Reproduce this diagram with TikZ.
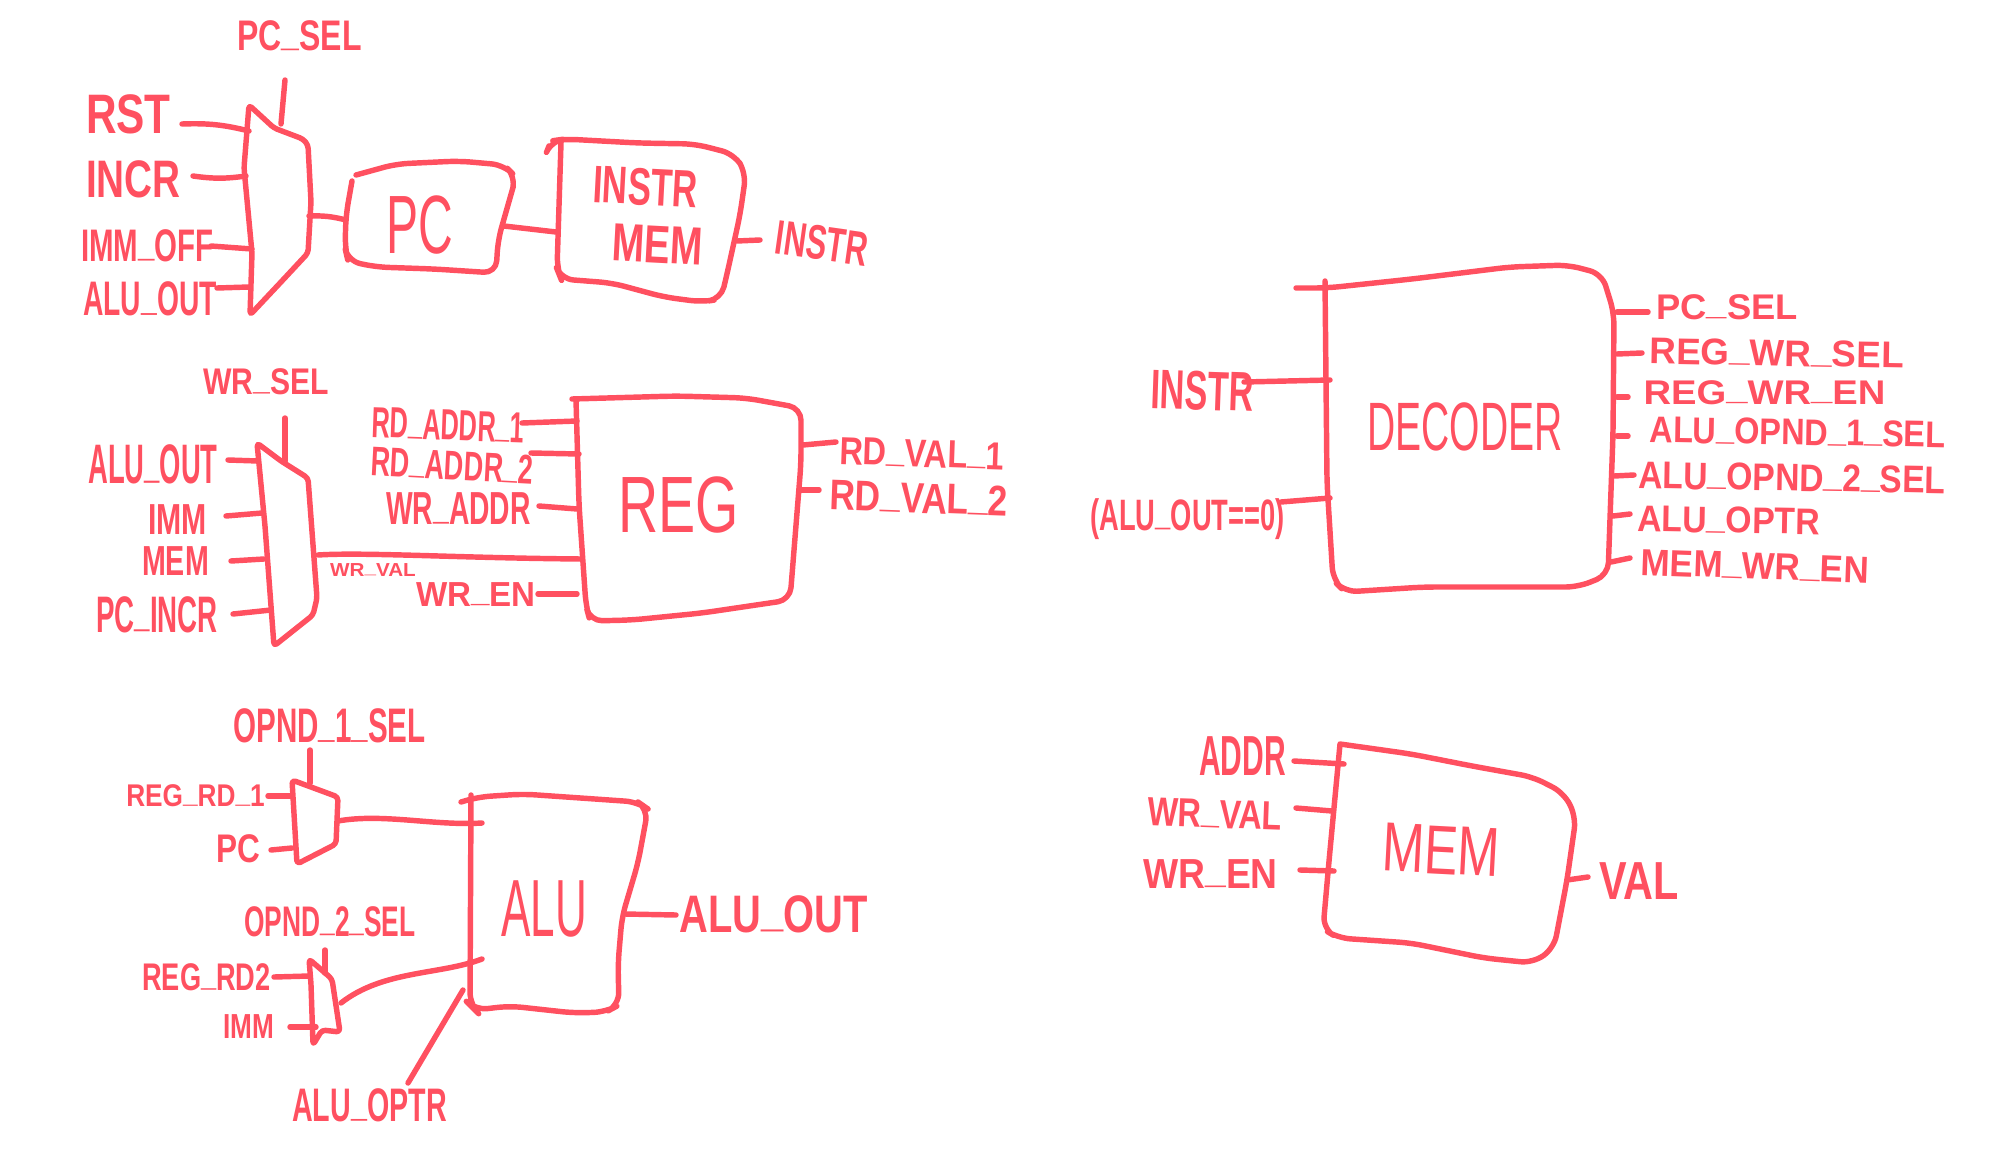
\documentclass[tikz,border=0pt]{standalone}
\usepackage{graphicx}
\usepackage{fontspec}
\setmainfont{Liberation Sans}
\definecolor{ink}{HTML}{FF5060}
\newcommand{\us}{\raisebox{.12em}{\_}}
\tikzset{
  hand/.style={draw=ink,line width=3.1pt,line cap=round,line join=round,rounded corners=7pt},
  muxline/.style={draw=ink,line width=3.1pt,line cap=round,line join=round,rounded corners=2pt},
  wire/.style={draw=ink,line width=3.1pt,line cap=round},
  lbl/.style={text=ink,inner sep=0pt,outer sep=0pt,anchor=base,font=\bfseries}
}
% \lab[node options]{name}{x1}{x2}{y top}{y baseline}{text}
\newcommand{\lab}[7][]{%
  \pgfmathsetlengthmacro\labw{(#4-#3)*0.5669pt}%
  \pgfmathsetlengthmacro\labh{(#6-#5)*0.5669pt}%
  \node[lbl,#1] (#2) at ({(#3+#4)/2},#6) {\resizebox{\labw}{\labh}{#7}};}
% \conn[to options]{name}{start}{end}
\newcommand{\conn}[4][]{%
  \coordinate (#2-a) at (#3);\coordinate (#2-b) at (#4);
  \draw[wire] (#2-a) to[#1] (#2-b);}
\begin{document}
\begin{tikzpicture}[x=0.02cm,y=-0.02cm]
\path[use as bounding box] (0,0) rectangle (1993,1152);
% ---------- PC group
\lab{lpcsel}{237}{362}{21}{51}{PC\us SEL}
\lab{lrst}{86}{171}{95}{134}{RST}
\lab{lincr}{86}{181}{160}{197}{INCR}
\lab{limmoff}{81}{214}{229}{261}{IMM\us OFF}
\lab{laluout}{83}{217}{281}{315}{ALU\us OUT}
\lab[rotate=-3]{linstr}{592}{697}{168}{205}{INSTR}
\lab[rotate=-3]{lmem}{611}{702}{226}{263}{MEM}
\lab{lpc}{386}{453}{196}{254}{\mdseries PC}
\lab[rotate=-8]{linstrout}{773}{866}{226}{260}{INSTR}
\draw[muxline] (249,105) -- (274,128) -- (303,139) -- (308,145) -- (311,202) -- (308,253) -- (281,282) -- (250,315) -- (252,253) -- (244,168) -- cycle;
\draw[hand] (356,175) -- (396,164) -- (459,161) -- (504,165) -- (516,177) -- (510,198) -- (498,240) -- (496,273) -- (434,269) -- (376,267) -- (348,261) -- (345,248) -- (346,215) -- (352,181);
\draw[hand] (549,146) -- (551,141) -- (565,139) -- (638,143) -- (695,144) -- (734,154) -- (746,173) -- (740,215) -- (727,274) -- (721,299) -- (702,302) -- (664,297) -- (612,283) -- (561,279) -- (557,269) -- (561,143);
\conn{c1}{285,80}{281,124}
\conn[bend left=8]{c2}{182,124}{249,131}
\conn[bend right=8]{c3}{193,176}{246,176}
\conn{c4}{211,246}{252,249}
\conn{c5}{217,288}{249,287}
\conn[bend left=8]{c6}{309,216}{346,220}
\conn{c7}{504,226}{556,232}
\conn{c8}{737,241}{760,240}
% ---------- REG group
\lab{lwrsel}{203}{329}{368}{394}{WR\us SEL}
\lab{lalu2}{88}{218}{444}{483}{ALU\us OUT}
\lab{limm2}{148}{207}{504}{534}{IMM}
\lab{lmem2}{142}{209}{546}{575}{MEM}
\lab{lpcincr}{96}{218}{596}{632}{PC\us INCR}
\lab[rotate=-2]{lrda1}{371}{524}{410}{440}{RD\us ADDR\us 1}
\lab[rotate=-3]{lrda2}{370}{533}{451}{480}{RD\us ADDR\us 2}
\lab{lwra}{386}{531}{492}{524}{WR\us ADDR}
\lab{lwrval}{330}{416}{563}{576}{WR\us VAL}
\lab{lwren}{416}{536}{582}{606}{WR\us EN}
\lab{lreg}{618}{739}{476}{532}{\mdseries REG}
\lab[rotate=-2]{lrv1}{839}{1004}{440}{467}{RD\us VAL\us 1}
\lab[rotate=-2]{lrv2}{829}{1008}{483}{513}{RD\us VAL\us 2}
\draw[muxline] (257,443) -- (281,461) -- (308,478) -- (317,598) -- (313,615) -- (274,646) -- (265,526) -- cycle;
\draw[hand] (572,399) -- (676,396) -- (746,398) -- (801,408) -- (801,463) -- (790,600) -- (702,613) -- (632,620) -- (590,621) -- (586,606) -- (579,505) -- (576,400);
\conn{c9}{285,418}{285,461}
\conn{c10}{228,460}{258,461}
\conn{c11}{226,516}{262,513}
\conn{c12}{231,561}{264,559}
\conn{c13}{233,614}{271,610}
\draw[wire] (318,555) .. controls (364,552) and (459,558) .. (582,559);
\conn{c14}{522,423}{577,421}
\conn{c15}{531,453}{579,454}
\conn{c16}{539,506}{577,509}
\conn{c17}{538,594}{577,594}
\conn{c18}{803,445}{836,442}
\conn{c19}{801,490}{819,490}
% ---------- ALU group
\lab{lop1}{233}{426}{708}{742}{OPND\us 1\us SEL}
\lab{lrr1}{126}{265}{784}{806}{REG\us RD\us 1}
\lab{lpc3}{216}{260}{834}{862}{PC}
\lab{lalu}{501}{587}{880}{936}{\mdseries ALU}
\lab{laluo}{679}{868}{895}{932}{ALU\us OUT}
\lab{lop2}{244}{416}{906}{936}{OPND\us 2\us SEL}
\lab{lrr2}{142}{271}{963}{990}{REG\us RD2}
\lab{limm3}{223}{274}{1014}{1038}{IMM}
\lab{lopt}{292}{447}{1088}{1121}{ALU\us OPTR}
\draw[muxline] (292,780) -- (338,797) -- (336,844) -- (297,864) -- cycle;
\draw[muxline] (309,959) -- (332,979) -- (340,1032) -- (322,1030) -- (313,1045) -- (311,984) -- cycle;
\draw[hand] (461,802) -- (478,797) -- (523,794) -- (638,802) -- (648,809) -- (638,863) -- (622,917) -- (618,964) -- (619,1005) -- (606,1012) -- (574,1013) -- (510,1006) -- (475,1010) -- (470,1005) -- (471,795);
\conn{c20}{310,750}{310,783}
\conn{c21}{268,796}{292,796}
\conn{c22}{271,850}{292,848}
\draw[wire] (338,821) .. controls (383,813) and (434,826) .. (482,823);
\conn{c23}{625,914}{676,915}
\conn{c24}{325,950}{325,973}
\conn{c25}{274,977}{309,976}
\conn{c26}{290,1027}{316,1027}
\draw[wire] (341,1003) .. controls (383,970) and (440,975) .. (482,959);
\conn{c27}{463,990}{408,1083}
% ---------- DECODER
\begin{scope}[xshift=-0.08cm]
\lab[rotate=-2]{ldinstr}{1154}{1257}{371}{410}{INSTR}
\lab{ldalu}{1094}{1289}{498}{530}{(ALU\us OUT==0)}
\lab{ldec}{1371}{1567}{402}{450}{\mdseries DECODER}
\lab{ld1}{1660}{1802}{294}{319}{PC\us SEL}
\lab[rotate=-1]{ld2}{1653}{1908}{340}{366}{REG\us WR\us SEL}
\lab{ld3}{1647}{1890}{380}{404}{REG\us WR\us EN}
\lab[rotate=-1]{ld4}{1653}{1950}{419}{445}{ALU\us OPND\us 1\us SEL}
\lab[rotate=-1]{ld5}{1642}{1950}{464}{491}{ALU\us OPND\us 2\us SEL}
\lab[rotate=-1]{ld6}{1641}{1824}{507}{533}{ALU\us OPTR}
\lab[rotate=-2]{ld7}{1644}{1873}{553}{579}{MEM\us WR\us EN}
\draw[hand] (1300,288) -- (1331,288) -- (1416,279) -- (1514,267) -- (1572,265) -- (1606,274) -- (1618,313) -- (1617,434) -- (1612,575) -- (1582,587) -- (1428,587) -- (1349,592) -- (1337,580) -- (1331,483) -- (1329,281);
\conn{c28}{1248,382}{1334,380}
\conn{c29}{1285,502}{1334,498}
\conn{c30}{1621,312}{1652,312}
\conn{c31}{1621,354}{1646,353}
\conn{c32}{1621,397}{1632,397}
\conn{c33}{1621,436}{1632,436}
\conn{c34}{1618,476}{1638,475}
\conn{c35}{1617,516}{1634,514}
\conn{c36}{1615,562}{1634,558}
\end{scope}
% ---------- MEM
\begin{scope}[xshift=-0.1cm]
\lab{lmaddr}{1204}{1291}{736}{775}{ADDR}
\lab[rotate=-2]{lmwv}{1152}{1287}{800}{828}{WR\us VAL}
\lab{lmwe}{1148}{1283}{859}{888}{WR\us EN}
\lab[rotate=-3]{lmmem}{1386}{1504}{826}{874}{\mdseries MEM}
\lab{lmval}{1604}{1684}{862}{899}{VAL}
\draw[hand] (1345,744) -- (1416,754) -- (1477,766) -- (1538,777) -- (1569,793) -- (1581,817) -- (1572,880) -- (1559,948) -- (1538,963) -- (1489,958) -- (1416,943) -- (1343,938) -- (1328,929) -- (1334,861) -- (1345,744);
\conn{c37}{1299,761}{1349,764}
\conn{c38}{1301,808}{1337,811}
\conn{c39}{1305,870}{1339,871}
\conn{c40}{1572,880}{1593,877}
\end{scope}
\end{tikzpicture}
\end{document}
